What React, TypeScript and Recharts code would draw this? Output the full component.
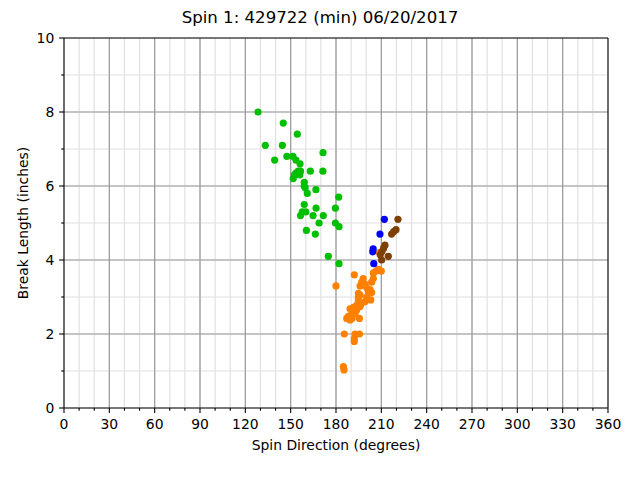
import React from 'react';
import {
  ScatterChart,
  Scatter,
  XAxis,
  YAxis,
  CartesianGrid,
  ReferenceLine,
} from 'recharts';

const title = 'Spin 1: 429722 (min) 06/20/2017';

const xTicks = [0, 10, 20, 30, 40, 50, 60, 70, 80, 90, 100, 110, 120, 130, 140, 150, 160, 170, 180, 190, 200, 210, 220, 230, 240, 250, 260, 270, 280, 290, 300, 310, 320, 330, 340, 350, 360];
const xMajorTicks = [0, 30, 60, 90, 120, 150, 180, 210, 240, 270, 300, 330, 360];
const yTicks = [0, 1, 2, 3, 4, 5, 6, 7, 8, 9, 10];
const yMajorTicks = [0, 2, 4, 6, 8, 10];

// [spin direction, break length]
const greenPts = [
  [128.4, 8.0], [145.1, 7.7], [154.4, 7.4], [133.2, 7.1], [144.5, 7.1],
  [171.4, 6.9], [139.4, 6.7], [147.5, 6.8], [151.5, 6.8], [153.5, 6.7],
  [156.2, 6.6], [151.7, 6.2], [152.5, 6.3], [153.5, 6.35], [155.0, 6.4],
  [156.5, 6.4], [156.0, 6.3], [163.0, 6.4], [171.3, 6.4], [159.0, 6.1],
  [159.0, 6.0], [159.6, 5.95], [161.0, 5.8], [166.7, 5.9], [181.8, 5.7],
  [159.0, 5.5], [179.6, 5.4], [166.8, 5.4], [160.0, 5.3], [157.7, 5.3],
  [156.5, 5.2], [164.8, 5.2], [171.6, 5.2], [168.8, 5.0], [179.6, 5.0],
  [182.0, 4.9], [160.4, 4.8], [166.3, 4.7], [174.9, 4.1], [182.0, 3.9],
];

const orangePts = [
  [208.7, 4.2], [204.7, 3.65], [206.5, 3.7], [208.0, 3.75], [210.0, 3.7],
  [192.1, 3.6], [198.0, 3.5], [204.7, 3.5], [197.0, 3.4], [199.2, 3.35],
  [203.6, 3.4], [180.0, 3.3], [195.9, 3.3], [200.3, 3.25], [202.5, 3.2],
  [201.4, 3.15], [203.6, 3.12], [194.8, 3.1], [195.9, 3.05], [200.3, 3.0],
  [194.8, 3.0], [203.0, 2.92], [194.8, 2.92], [199.2, 2.87], [196.4, 2.8],
  [193.7, 2.78], [195.9, 2.74], [191.5, 2.72], [189.3, 2.68], [193.7, 2.65],
  [192.6, 2.56], [190.6, 2.58], [190.4, 2.47], [188.2, 2.48], [187.1, 2.42],
  [189.3, 2.38], [190.6, 2.42], [195.5, 2.42], [185.5, 2.0], [192.6, 2.0],
  [195.5, 2.0], [192.1, 1.88], [192.1, 1.8], [184.9, 1.12], [185.3, 1.03],
];

const bluePts = [
  [212.0, 5.1], [209.1, 4.7], [204.6, 4.3], [204.3, 4.22], [205.0, 3.9],
];

const brownPts = [
  [221.0, 5.1], [219.7, 4.82], [218.2, 4.77], [216.8, 4.7], [212.4, 4.4],
  [211.5, 4.32], [210.4, 4.23], [209.3, 4.14], [214.6, 4.1], [210.2, 4.0],
];

const toRows = (pts: number[][]) => pts.map(([x, y]) => ({ x, y }));

const FONT = 'DejaVu Sans';
const MAJOR_GRID = '#9a9a9a';

const XTick = (props: any) => {
  const { x, y, payload } = props;
  const major = payload.value % 30 === 0;
  return (
    <g>
      <line x1={x} x2={x} y1={y} y2={y + (major ? 4.9 : 2.8)} stroke="#000" strokeWidth={1.1} />
      {major && (
        <text x={x} y={y + 20.5} textAnchor="middle" fontSize={13.9} fontFamily={FONT} fill="#000">
          {payload.value}
        </text>
      )}
    </g>
  );
};

const YTick = (props: any) => {
  const { x, y, payload } = props;
  const major = payload.value % 2 === 0;
  return (
    <g>
      <line x1={x} x2={x - (major ? 4.9 : 2.8)} y1={y} y2={y} stroke="#000" strokeWidth={1.1} />
      {major && (
        <text x={x - 9.7} y={y} dy="0.36em" textAnchor="end" fontSize={13.9} fontFamily={FONT} fill="#000">
          {payload.value}
        </text>
      )}
    </g>
  );
};

const Dot = (props: any) => <circle cx={props.cx} cy={props.cy} r={3.6} fill={props.fill} />;

const App: React.FC = () => {
  return (
    <div style={{ position: 'absolute', left: 0, top: 0, width: 640, height: 480, background: '#fff' }}>
      <div
        style={{
          position: 'absolute',
          left: 0,
          top: 8,
          width: 640,
          height: 20,
          lineHeight: '20px',
          textAlign: 'center',
          fontFamily: FONT,
          fontSize: 16.6,
          color: '#000',
        }}
      >
        {title}
      </div>
      <ScatterChart width={640} height={480} margin={{ top: 38, right: 32, bottom: 30, left: 0 }}>
        <CartesianGrid stroke="#e0e0e0" strokeWidth={1.2} />
        <XAxis
          type="number"
          dataKey="x"
          domain={[0, 360]}
          ticks={xTicks}
          interval={0}
          height={42}
          tickSize={0}
          tickMargin={0}
          tickLine={false}
          tick={<XTick />}
          axisLine={{ stroke: '#000', strokeWidth: 1.1 }}
          label={{
            value: 'Spin Direction (degrees)',
            position: 'insideBottom',
            offset: 0,
            style: { fontFamily: FONT, fontSize: 13.9, fill: '#000' },
          }}
        />
        <YAxis
          type="number"
          dataKey="y"
          domain={[0, 10]}
          ticks={yTicks}
          interval={0}
          width={64}
          tickSize={0}
          tickMargin={0}
          tickLine={false}
          tick={<YTick />}
          axisLine={{ stroke: '#000', strokeWidth: 1.1 }}
          label={{
            value: 'Break Length (inches)',
            angle: -90,
            position: 'insideLeft',
            offset: 23,
            style: { textAnchor: 'middle', fontFamily: FONT, fontSize: 13.9, fill: '#000' },
          }}
        />
        {xMajorTicks.slice(1, -1).map((v) => (
          <ReferenceLine key={`vx${v}`} x={v} stroke={MAJOR_GRID} strokeWidth={1.2} />
        ))}
        {yMajorTicks.slice(1, -1).map((v) => (
          <ReferenceLine key={`hy${v}`} y={v} stroke={MAJOR_GRID} strokeWidth={1.2} />
        ))}
        <ReferenceLine y={10} stroke="#000" strokeWidth={1.1} />
        <ReferenceLine x={360} stroke="#000" strokeWidth={1.1} />
        <Scatter data={toRows(greenPts)} fill="#00bf00" shape={Dot} isAnimationActive={false} />
        <Scatter data={toRows(orangePts)} fill="#ff8000" shape={Dot} isAnimationActive={false} />
        <Scatter data={toRows(bluePts)} fill="#0000ff" shape={Dot} isAnimationActive={false} />
        <Scatter data={toRows(brownPts)} fill="#7f3f00" shape={Dot} isAnimationActive={false} />
      </ScatterChart>
    </div>
  );
};

export default App;
